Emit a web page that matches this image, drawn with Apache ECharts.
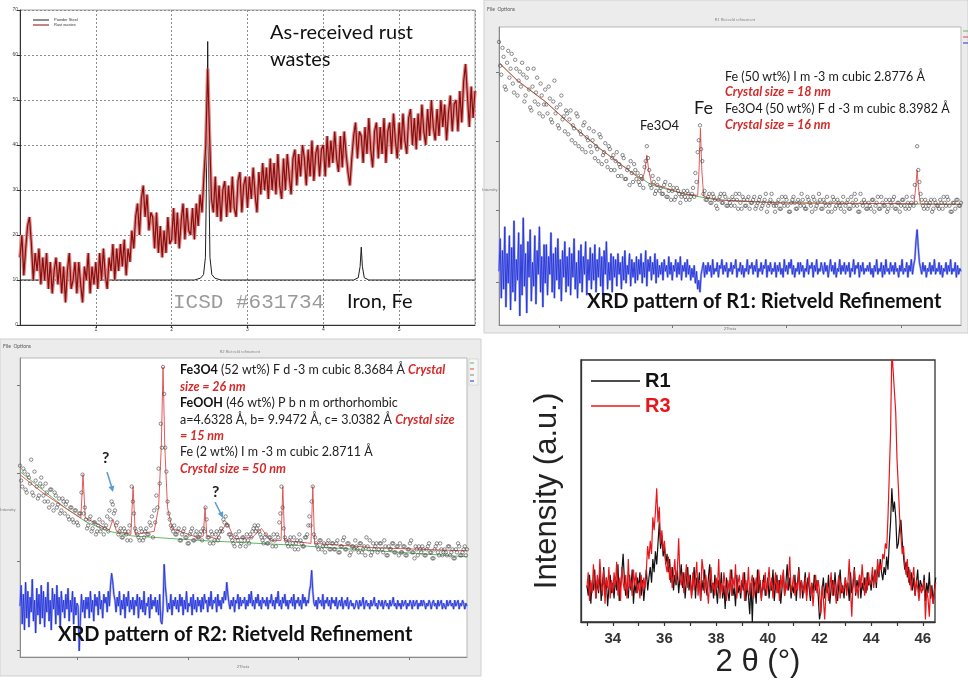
<!DOCTYPE html>
<html>
<head>
<meta charset="utf-8">
<script src="https://cdn.jsdelivr.net/npm/echarts@6/dist/echarts.min.js"></script>
<style>
  html, body { margin: 0; padding: 0; background: #fff; }
  #chart { width: 968px; height: 680px; }
</style>
</head>
<body>
<div id="chart"></div>
<script>
// ---------- As-received rust wastes: measured scan + ICSD #631734 iron pattern ----------
const rustScanStart = 0, rustScanStep = 0.025;
const rustScan = [
  15,20,11,17,22,24,18,10,16,12,
  17,9,15,10,16,8,14,7,12,15,
  9,14,7,13,5,12,16,8,10,14,
  7,14,9,5,13,10,16,7,13,9,
  14,8,16,10,17,11,8,15,12,18,
  10,17,12,18,13,19,11,17,14,21,
  17,24,27,20,28,31,24,29,21,25,
  24,17,25,16,22,15,21,16,24,18,
  19,26,18,25,17,23,27,19,26,21,
  20,26,19,27,22,29,25,33,40,57,
  42,28,25,33,24,31,23,30,32,24,
  31,25,33,26,24,32,34,25,31,33,
  26,33,28,35,29,25,34,29,36,30,
  35,28,37,30,36,29,38,31,28,37,
  30,38,33,29,37,39,31,38,33,40,
  37,31,39,33,41,32,38,40,33,39,
  40,33,42,35,41,36,43,37,34,42,
  35,43,38,34,31,37,42,45,37,43,
  42,36,44,38,46,39,35,43,45,37,
  44,38,46,36,43,45,38,47,41,37,
  45,39,47,41,38,46,48,40,46,39,
  47,41,49,43,40,48,42,50,44,41,
  48,42,50,44,49,41,47,51,43,49,
  50,43,52,45,54,58,51,44,53,46,52
];
const ironRefX = [0, 2.30, 2.38, 2.42, 2.445, 2.465, 2.475, 2.485, 2.505, 2.53, 2.57, 2.65, 4.40, 4.46, 4.485, 4.50, 4.515, 4.54, 4.60, 6];
const ironRefY = [10, 10, 10.4, 11.2, 15, 40, 63, 40, 15, 11.2, 10.4, 10, 10, 10.5, 13, 17.3, 13, 10.5, 10, 10];

// ---------- R1 Rietveld refinement ----------
const r1Start = 0, r1Step = 0.5;          // first observation pass
const r1StartB = 0.25, r1StepB = 0.5;     // interleaved observation pass
const r1Observed = [
  95,84,90,79,92,86,81,89,77,85,
  88,75,83,79,72,86,78,74,81,70,
  79,71,76,68,82,73,66,77,70,72,
  64,72,67,61,70,65,59,68,63,66,
  58,65,60,55,63,57,61,53,59,56,
  52,58,54,50,56,49,53,55,48,52,
  51,47,49,53,60,52,46,48,45,49,
  46,44,48,43,47,45,42,46,44,43,
  45,42,44,43,46,51,58,67,55,45,
  42,44,41,43,40,42,44,41,43,40,
  41,43,40,42,44,39,42,40,43,41,
  42,39,41,43,40,42,38,41,44,40,
  40,42,39,41,43,40,38,42,41,39,
  41,44,40,39,42,40,43,39,41,42,
  39,41,43,40,38,42,40,41,39,43,
  40,42,39,41,44,40,38,41,42,39,
  41,39,42,40,43,39,41,40,38,42,
  40,43,39,41,40,42,39,41,40,43,
  47,60,48,42,39,41,40,42,39,41,
  40,42,39,41,43,40,38,41,42,40,41
];
const r1ObservedB = [
  87,93,80,88,83,91,78,86,82,80,
  84,77,86,73,80,75,83,71,77,74,
  74,80,69,75,71,67,74,69,65,71,
  69,62,66,71,60,64,67,58,62,60,
  62,56,59,64,54,58,55,60,52,57,
  55,50,53,57,49,52,47,51,54,49,
  48,50,46,55,56,47,50,44,47,45,
  44,47,43,45,42,46,43,45,41,44,
  43,45,42,44,43,48,62,59,44,42,
  43,41,44,42,39,43,41,44,40,42,
  40,42,44,39,41,43,40,42,39,41,
  43,40,42,39,41,44,40,42,41,38,
  41,39,43,40,42,38,41,43,39,42,
  40,42,39,43,41,38,42,40,44,39,
  42,40,38,41,43,39,42,40,41,38,
  41,39,43,40,42,38,44,40,41,39,
  40,42,38,41,39,43,40,42,39,41,
  42,39,41,38,42,40,43,39,41,40,
  41,52,44,40,42,39,41,38,42,40,
  39,41,43,40,42,38,41,39,42,40
];
const r1CalcX = [0, 4, 10, 15, 22, 28, 31, 31.6, 32, 32.4, 33, 40, 43, 43.3, 43.6, 43.9, 44.3, 47, 60, 89.8, 90.2, 90.5, 90.8, 91.2, 100];
const r1CalcY = [88, 82, 75, 68, 59, 52, 48.5, 52, 57, 52, 47.5, 44, 43.5, 52, 66, 52, 43.2, 42, 41, 40.7, 46, 52, 46, 40.6, 40.5];
const r1BackX = [0, 4, 10, 15, 22, 28, 33, 40, 47, 60, 100];
const r1BackY = [88, 82, 75, 68, 59, 52, 47, 44, 42, 41, 40.5];
const r1DiffStart = 0, r1DiffStep = 0.25;
const r1Diff = [
  18,29,9,25,12,33,6,24,14,30,5,26,11,35,8,22,15,31,3,27,
  10,36,13,24,4,28,16,32,8,21,13,30,7,25,17,33,11,23,6,27,
  14,27,10,23,17,31,11,24,9,26,15,29,12,22,8,25,16,28,11,23,
  13,26,10,24,16,29,12,21,9,25,14,27,11,23,17,28,10,22,15,26,
  12,24,15,27,11,22,16,26,13,23,10,25,17,28,12,21,15,24,11,23,
  16,22,13,24,17,21,12,23,15,25,14,20,17,24,13,22,16,21,14,23,
  15,22,17,24,14,21,16,25,13,22,18,23,15,21,17,24,14,22,16,20,
  17,21,15,22,18,20,16,23,17,21,15,20,18,22,16,21,17,23,15,20,
  18,21,16,22,17,20,15,19,16,20,14,18,12,15,11,17,19,21,16,20,
  17,21,18,20,16,22,17,19,18,21,16,20,19,22,17,20,18,21,16,19,
  18,21,17,20,19,22,16,19,18,21,17,20,16,19,18,22,17,20,19,21,
  17,20,18,22,16,19,18,21,17,20,19,22,16,20,18,21,17,19,18,21,
  16,20,18,21,17,19,16,22,18,20,17,21,19,22,17,20,16,19,18,21,
  17,21,18,20,16,19,18,22,17,20,19,21,16,20,18,22,17,19,18,21,
  19,17,21,18,20,16,19,22,18,20,17,21,16,19,18,22,17,20,18,21,
  17,20,18,21,16,19,18,22,17,20,19,21,16,20,18,21,17,19,18,20,
  18,21,17,19,16,20,18,22,17,19,18,21,16,20,17,22,18,19,17,21,
  18,20,17,21,18,19,16,20,18,22,17,19,18,21,16,20,18,22,17,20,
  22,28,32,26,21,19,17,21,18,20,16,19,18,21,17,20,18,22,17,19,
  18,21,17,20,16,19,18,21,17,20,18,22,17,19,18,21,16,20,17,19,
  18
];

// ---------- R2 Rietveld refinement ----------
const r2Start = 0, r2Step = 0.5;
const r2StartB = 0.25, r2StepB = 0.5;
const r2Observed = [
  64,57,62,55,60,66,54,59,53,58,
  57,52,55,50,56,49,54,51,48,53,
  48,52,46,50,45,49,44,48,61,50,
  43,46,42,45,41,44,42,45,43,47,
  49,52,48,44,41,43,40,42,39,44,
  57,48,42,40,43,39,42,41,45,47,
  49,54,63,78,97,70,52,46,43,44,
  41,43,39,42,40,38,41,43,39,42,
  40,42,43,50,40,38,41,39,42,40,
  43,46,47,44,41,39,37,40,42,38,
  40,37,39,41,42,44,43,42,40,38,
  41,38,40,37,39,41,45,57,43,39,
  37,40,38,36,39,41,38,37,40,44,
  44,57,40,37,39,36,38,37,39,36,
  38,36,39,35,37,40,36,38,35,37,
  39,36,38,35,37,40,36,34,38,37,
  35,38,36,39,34,37,36,38,35,37,
  38,35,37,34,36,39,35,37,34,36,
  37,34,36,38,35,33,37,35,38,34,
  36,34,37,35,33,36,38,34,35,37,36
];
const r2ObservedB = [
  59,63,56,61,58,55,62,57,54,60,
  54,58,52,56,51,55,50,53,49,52,
  51,47,50,46,49,45,48,55,48,46,
  44,47,43,45,42,46,43,41,44,42,
  46,51,49,45,42,40,43,41,42,39,
  52,43,41,39,42,40,43,41,44,40,
  45,50,58,70,88,62,48,44,42,41,
  42,39,41,43,40,38,42,39,41,40,
  41,39,42,46,40,42,38,41,39,42,
  42,45,44,41,40,38,41,39,37,40,
  39,41,38,40,43,42,44,41,39,40,
  38,40,39,41,37,40,48,50,40,38,
  39,37,40,38,36,39,37,40,41,47,
  52,41,38,36,39,37,35,38,36,38,
  36,38,35,37,39,36,38,34,37,36,
  37,35,38,36,34,37,39,35,36,38,
  36,38,35,37,34,36,38,35,37,34,
  35,37,34,36,38,35,33,36,37,35,
  36,34,37,35,33,36,38,34,36,35,
  35,37,34,36,33,35,37,34,36,34
];
const r2CalcX = [0, 5, 10, 13.6, 14.1, 14.6, 20, 20.8, 21.6, 24.8, 25.3, 25.8, 30, 31, 31.6, 32, 32.4, 33, 34, 40, 41, 41.4, 41.8, 44, 46.3, 48, 52, 54, 56, 58.4, 58.8, 59.2, 65.1, 65.5, 65.9, 80, 100];
const r2CalcY = [61, 55, 50, 46.5, 61, 46.5, 42.5, 46, 42, 41, 57, 41, 42, 50, 70, 97, 70, 50, 43, 39.8, 40.5, 50, 40.5, 39.5, 45, 39.5, 40, 43, 39, 39, 57, 39, 38, 57, 38, 36.5, 35.5];
const r2BackX = [0, 5, 10, 15, 20, 25, 40, 60, 80, 100];
const r2BackY = [62, 56, 50, 45, 42, 40.5, 39, 37.5, 35.5, 33.5];
const r2DiffStart = 0, r2DiffStep = 0.25;
const r2Diff = [
  17,24,11,21,9,25,13,22,10,20,15,26,12,19,8,23,14,21,11,24,
  13,22,10,20,15,25,12,19,9,23,16,21,11,24,14,20,10,22,15,19,
  13,21,16,23,12,19,15,22,11,20,14,18,17,2,12,21,15,19,13,20,
  16,20,13,22,15,19,12,21,17,20,14,22,16,19,13,21,18,20,15,22,
  17,24,28,25,21,19,15,20,17,22,14,19,16,21,13,20,17,22,15,19,
  16,20,14,19,17,21,13,20,16,19,15,22,14,18,17,20,13,21,16,19,
  17,20,15,19,14,21,12,11,16,31,24,20,15,18,16,21,14,19,17,20,
  16,19,15,21,17,20,14,19,16,22,15,18,17,20,14,21,16,19,15,20,
  17,19,15,20,16,21,18,19,15,20,17,22,16,19,18,20,15,21,17,19,
  16,20,18,22,19,25,21,18,16,19,17,20,15,19,18,21,16,20,17,19,
  18,20,16,19,17,21,18,22,17,19,16,20,18,21,17,19,16,20,18,19,
  17,20,16,19,18,21,17,19,16,20,18,22,17,19,16,20,18,21,17,19,
  16,19,18,20,17,21,16,19,18,20,17,19,16,21,18,20,17,19,18,22,
  24,29,22,18,17,19,16,20,18,19,17,21,16,19,18,20,17,19,16,20,
  18,19,17,20,16,18,19,17,20,16,18,19,17,20,16,18,19,17,18,16,
  17,19,18,16,19,17,18,20,16,18,19,17,18,16,19,17,18,20,17,18,
  16,19,18,17,19,16,18,19,17,18,16,19,17,18,20,17,18,16,19,17,
  18,16,19,17,18,19,16,18,17,19,18,16,19,17,18,19,16,18,17,19,
  17,19,18,16,18,17,19,18,16,18,19,17,18,16,19,17,18,19,16,18,
  18,16,19,17,18,19,17,18,16,19,17,18,19,16,18,17,19,18,16,18,
  17
];

// ---------- R1 vs R3, 2θ = 33–46.5° ----------
const cmpStart = 33, cmpStep = 0.05;
const cmpR1 = [
  14,10,18,7,15,12,20,9,16,11,19,8,14,21,10,17,6,13,18,11,
  15,9,17,12,22,8,14,19,26,16,10,13,9,18,12,20,7,15,11,17,
  13,19,10,16,8,14,20,12,17,21,15,24,19,27,22,30,38,28,33,25,
  29,22,26,19,24,15,21,12,18,14,20,11,17,22,13,19,9,16,21,12,
  18,10,15,21,9,17,13,19,8,16,12,20,14,10,17,22,11,15,9,18,
  13,7,16,11,19,9,14,5,17,12,8,15,20,10,13,6,18,11,14,9,
  16,12,19,8,14,10,3,15,0,17,13,7,20,11,16,9,14,18,10,13,
  17,9,15,12,20,8,14,18,11,16,7,13,19,10,15,22,12,17,9,14,
  11,18,8,15,21,12,16,9,14,19,10,17,13,8,15,11,18,12,16,10,
  1,4,12,17,9,15,11,18,7,13,16,10,19,12,8,15,20,11,14,9,
  17,12,15,8,19,11,14,21,10,16,13,18,9,15,12,17,11,19,14,16,
  12,18,15,20,13,22,17,24,19,16,21,18,25,20,30,38,51,42,46,40,
  28,30,36,39,31,25,20,23,17,21,14,19,12,17,10,15,20,11,16,14,
  12,18,8,15,11,19,9,14,7,13,17
];
const cmpR3 = [
  13,19,8,16,11,22,14,9,18,12,24,15,10,20,7,17,13,21,9,16,
  11,19,14,23,10,17,8,21,15,12,18,9,24,13,16,10,20,14,19,11,
  15,9,18,12,17,13,20,29,24,31,26,40,35,42,51,38,44,30,35,27,
  31,22,19,25,16,21,13,18,24,15,20,32,17,14,19,11,16,22,13,18,
  15,9,19,12,17,23,10,16,8,24,20,11,18,13,7,16,21,12,15,10,
  17,13,24,9,15,11,19,14,8,16,12,20,10,17,13,22,9,15,18,11,
  14,19,8,16,12,21,10,15,18,9,13,17,11,20,14,8,16,12,19,10,
  15,21,12,17,9,14,19,11,16,8,18,13,20,10,15,12,17,25,11,14,
  18,10,15,12,20,9,16,13,11,17,8,14,19,10,15,6,13,18,11,16,
  12,3,14,9,1,11,15,8,13,19,10,16,12,7,14,18,9,15,11,13,
  17,10,15,24,12,2,16,20,11,14,9,18,13,22,15,10,17,12,19,14,
  16,21,13,19,15,24,18,22,20,26,24,30,28,40,56,72,104,96,88,80,
  62,52,40,33,26,29,22,18,24,15,20,12,17,21,10,16,13,8,14,11,
  11,16,1,12,9,2,14,10,7,12,15
];
const cmpTickValues = [33, 34, 35, 36, 37, 38, 39, 40, 41, 42, 43, 44, 45, 46];
const cmpLabelValues = [34, 36, 38, 40, 42, 44, 46];

// ---------- helpers ----------
const seq = (start, step, ys) => ys.map((y, i) => [+(start + i * step).toFixed(4), y]);
const pairs = (xs, ys) => xs.map((x, i) => [x, ys[i]]);

const LATO = 'Lato, "Open Sans", sans-serif';
const ARIAL = '"Liberation Sans", Arial, sans-serif';

function line(name, axis, data, color, width, z) {
  return {
    type: 'line', name, xAxisIndex: axis, yAxisIndex: axis, data,
    symbol: 'none', silent: true, animation: false, z,
    lineStyle: { color, width }, itemStyle: { color }
  };
}
function scatter(name, axis, data) {
  return {
    type: 'scatter', name, xAxisIndex: axis, yAxisIndex: axis, data,
    symbol: 'circle', symbolSize: 3.4, silent: true, animation: false, z: 4,
    itemStyle: { color: 'rgba(255,255,255,0)', borderColor: '#4a4a4a', borderWidth: 0.8 }
  };
}
function text(x, y, str, opt) {
  return {
    type: 'text', x, y, z: 100, silent: true,
    style: Object.assign({
      text: str, fontFamily: LATO, fontSize: 13, fill: '#222', verticalAlign: 'middle'
    }, opt || {})
  };
}
const redTok = { fill: '#d42a2a', fontStyle: 'italic', fontWeight: 'bold', fontFamily: LATO, fontSize: 12.5 };
const boldTok = { fill: '#111', fontWeight: 'bold', fontFamily: LATO, fontSize: 12.5 };

const plainAxis = (grid, min, max, ticks) => ({
  gridIndex: grid, type: 'value', min, max,
  axisLine: { show: true, lineStyle: { color: '#8a8a8a' } },
  axisTick: { show: true, length: 3, customValues: ticks, lineStyle: { color: '#777' } },
  axisLabel: { show: false },
  splitLine: { show: false }
});

const chart = echarts.init(document.getElementById('chart'), null, { renderer: 'canvas' });

chart.setOption({
  backgroundColor: '#fff',
  animation: false,
  grid: [
    { left: 20, top: 10, width: 455, height: 315, show: true, borderColor: '#a0a0a0', borderWidth: 1, backgroundColor: '#fff' },
    { left: 499, top: 27, width: 462, height: 298, show: true, borderColor: '#b8b8b8', borderWidth: 1, backgroundColor: '#fff' },
    { left: 20, top: 358, width: 447, height: 299, show: true, borderColor: '#b8b8b8', borderWidth: 1, backgroundColor: '#fff' },
    { left: 581, top: 360, width: 354, height: 262, show: true, borderColor: '#333', borderWidth: 1.3, backgroundColor: '#fff' }
  ],
  xAxis: [
    {
      gridIndex: 0, type: 'value', min: 0, max: 6, interval: 1,
      axisLine: { lineStyle: { color: '#333' } },
      axisTick: { length: 3, lineStyle: { color: '#333' } },
      axisLabel: { fontSize: 5, color: '#444', margin: 2, showMinLabel: false, showMaxLabel: false },
      splitLine: { show: true, lineStyle: { color: '#8c8c8c', type: [2, 2], width: 1 } }
    },
    plainAxis(1, 0, 100, [13, 37.4, 62.1, 87]),
    plainAxis(2, 0, 100, [12.8, 37.6, 62.2, 87]),
    {
      gridIndex: 3, type: 'value', min: 32.77, max: 46.47,
      axisLine: { lineStyle: { color: '#333', width: 1.3 } },
      axisTick: { show: true, length: 4, customValues: cmpTickValues, lineStyle: { color: '#333', width: 1.2 } },
      axisLabel: { customValues: cmpLabelValues, fontSize: 15, fontWeight: 'bold', color: '#333', fontFamily: ARIAL, margin: 9 },
      splitLine: { show: false },
      name: '2 θ (°)', nameLocation: 'middle', nameGap: 22,
      nameTextStyle: { fontSize: 31, color: '#222', fontFamily: ARIAL }
    }
  ],
  yAxis: [
    {
      gridIndex: 0, type: 'value', min: 0, max: 70, interval: 10,
      axisLine: { show: true, lineStyle: { color: '#333' } },
      axisTick: { show: true, length: 3, lineStyle: { color: '#333' } },
      axisLabel: { fontSize: 5, color: '#444', margin: 2 },
      splitLine: { show: true, lineStyle: { color: '#8c8c8c', type: [2, 2], width: 1 } }
    },
    plainAxis(1, 0, 100, [14.4, 38.6, 61.7, 84.9]),
    plainAxis(2, 0, 100, [2.3, 31.9, 61.5, 91]),
    {
      gridIndex: 3, type: 'value', min: 0, max: 100,
      axisLine: { show: true, lineStyle: { color: '#333', width: 1.3 } },
      axisTick: { show: false }, axisLabel: { show: false }, splitLine: { show: false },
      name: 'Intensity (a.u.)', nameLocation: 'middle', nameGap: 18,
      nameTextStyle: { fontSize: 31, color: '#222', fontFamily: ARIAL }
    }
  ],
  legend: [
    {
      left: 28, top: 13, orient: 'vertical', icon: 'rect', itemWidth: 16, itemHeight: 1,
      itemGap: 1, selectedMode: false, textStyle: { fontSize: 4, color: '#333' },
      data: ['Powder Steel', 'Rust wastes']
    },
    {
      left: 586, top: 366, orient: 'vertical', icon: 'rect', itemWidth: 49, itemHeight: 1.6,
      itemGap: 5, selectedMode: false,
      textStyle: { fontSize: 20, fontWeight: 'bold', fontFamily: ARIAL },
      data: [
        { name: 'R1', textStyle: { color: '#111' } },
        { name: 'R3', textStyle: { color: '#e8161b' } }
      ]
    }
  ],
  series: [
    // panel: as-received rust wastes
    line('Powder Steel', 0, pairs(ironRefX, ironRefY), '#1e1e1e', 1, 2),
    line('Rust wastes', 0, seq(rustScanStart, rustScanStep, rustScan), '#8b0a0a', 1.2, 4),
    line('Rust wastes', 0, seq(rustScanStart, rustScanStep, rustScan), '#d98c8c', 3.5, 3),

    // panel: R1 refinement
    line('R1 background', 1, pairs(r1BackX, r1BackY), '#62b862', 1, 2),
    line('R1 calculated', 1, pairs(r1CalcX, r1CalcY), '#e04848', 0.9, 3),
    scatter('R1 observed', 1, seq(r1Start, r1Step, r1Observed)),
    scatter('R1 observed', 1, seq(r1StartB, r1StepB, r1ObservedB)),
    line('R1 difference', 1, seq(r1DiffStart, r1DiffStep, r1Diff), '#9ba4f0', 2.2, 3),
    line('R1 difference', 1, seq(r1DiffStart, r1DiffStep, r1Diff), '#2433d6', 0.9, 4),

    // panel: R2 refinement
    line('R2 background', 2, pairs(r2BackX, r2BackY), '#62b862', 1, 2),
    line('R2 calculated', 2, pairs(r2CalcX, r2CalcY), '#e04848', 0.9, 3),
    scatter('R2 observed', 2, seq(r2Start, r2Step, r2Observed)),
    scatter('R2 observed', 2, seq(r2StartB, r2StepB, r2ObservedB)),
    line('R2 difference', 2, seq(r2DiffStart, r2DiffStep, r2Diff), '#9ba4f0', 2.2, 3),
    line('R2 difference', 2, seq(r2DiffStart, r2DiffStep, r2Diff), '#2433d6', 0.9, 4),

    // panel: R1 vs R3
    line('R1', 3, seq(cmpStart, cmpStep, cmpR1), '#111111', 1.2, 3),
    line('R3', 3, seq(cmpStart, cmpStep, cmpR3), '#e8161b', 1.2, 4)
  ],
  graphic: [
    // program windows behind the two refinement plots
    { type: 'rect', z: -10, shape: { x: 484, y: 0, width: 484, height: 333 }, style: { fill: '#ececec', stroke: '#cfcfcf' } },
    { type: 'rect', z: -10, shape: { x: 0, y: 339, width: 481, height: 337 }, style: { fill: '#ececec', stroke: '#cfcfcf' } },
    text(487, 9, 'File  Options', { fontSize: 5, fill: '#555' }),
    text(735, 20, 'R1 Rietveld refinement', { fontSize: 4, fill: '#888', textAlign: 'center' }),
    text(3, 346, 'File  Options', { fontSize: 5, fill: '#555' }),
    text(240, 352, 'R2 Rietveld refinement', { fontSize: 4, fill: '#888', textAlign: 'center' }),
    text(490, 190, 'Intensity', { fontSize: 4, fill: '#777', textAlign: 'center', rotation: Math.PI / 2 }),
    text(8, 510, 'Intensity', { fontSize: 4, fill: '#777', textAlign: 'center', rotation: Math.PI / 2 }),
    text(730, 329, '2Theta', { fontSize: 4, fill: '#777', textAlign: 'center' }),
    text(243, 667, '2Theta', { fontSize: 4, fill: '#777', textAlign: 'center' }),
    // small series keys on the right of the refinement windows
    { type: 'line', z: 50, shape: { x1: 963, y1: 31, x2: 968, y2: 31 }, style: { stroke: '#62b862', lineWidth: 1 } },
    { type: 'line', z: 50, shape: { x1: 963, y1: 37, x2: 968, y2: 37 }, style: { stroke: '#e04848', lineWidth: 1 } },
    { type: 'line', z: 50, shape: { x1: 963, y1: 43, x2: 968, y2: 43 }, style: { stroke: '#2433d6', lineWidth: 1 } },
    { type: 'rect', z: 50, shape: { x: 469, y: 359, width: 9, height: 26 }, style: { fill: '#f6f6f6', stroke: '#c0c0c0', lineWidth: 0.5 } },
    { type: 'line', z: 51, shape: { x1: 470, y1: 363, x2: 474, y2: 363 }, style: { stroke: '#62b862', lineWidth: 1 } },
    { type: 'line', z: 51, shape: { x1: 470, y1: 369, x2: 474, y2: 369 }, style: { stroke: '#e04848', lineWidth: 1 } },
    { type: 'line', z: 51, shape: { x1: 470, y1: 375, x2: 474, y2: 375 }, style: { stroke: '#888', lineWidth: 1 } },
    { type: 'line', z: 51, shape: { x1: 470, y1: 381, x2: 474, y2: 381 }, style: { stroke: '#2433d6', lineWidth: 1 } },

    // annotations: as-received rust wastes
    text(270, 33, 'As-received rust', { fontSize: 20, fill: '#111' }),
    text(270, 60, 'wastes', { fontSize: 20, fill: '#111' }),
    text(173, 302, 'ICSD #631734', { fontSize: 21, fill: '#9a9a9a', fontFamily: '"Liberation Mono", "DejaVu Sans Mono", monospace' }),
    text(347, 302, 'Iron, Fe', { fontSize: 20, fill: '#111' }),

    // annotations: R1 refinement
    text(725, 77, 'Fe (50 wt%) I m -3 m cubic 2.8776 Å', { fontSize: 12.5, fill: '#1a1a1a' }),
    text(725, 92, '{r|Crystal size = 18 nm}', { fontSize: 12.5, rich: { r: redTok } }),
    text(725, 109, 'Fe3O4 (50 wt%) F d -3 m cubic 8.3982 Å', { fontSize: 12.5, fill: '#1a1a1a' }),
    text(725, 125, '{r|Crystal size = 16 nm}', { fontSize: 12.5, rich: { r: redTok } }),
    text(694, 108, 'Fe', { fontSize: 18, fill: '#1a1a1a' }),
    text(640, 126, 'Fe3O4', { fontSize: 13, fill: '#1a1a1a' }),
    text(587, 302, 'XRD pattern of R1: Rietveld Refinement', { fontSize: 20, fontWeight: 'bold', fill: '#111' }),

    // annotations: R2 refinement
    text(180, 370, '{b|Fe3O4} (52 wt%) F d -3 m cubic 8.3684 Å {r|Crystal}', { fontSize: 12.5, rich: { b: boldTok, r: redTok } }),
    text(180, 387, '{r|size = 26 nm}', { fontSize: 12.5, rich: { r: redTok } }),
    text(180, 403, '{b|FeOOH} (46 wt%) P b n m orthorhombic', { fontSize: 12.5, rich: { b: boldTok } }),
    text(180, 420, 'a=4.6328 Å, b= 9.9472 Å, c= 3.0382 Å {r|Crystal size}', { fontSize: 12.5, rich: { r: redTok } }),
    text(180, 436, '{r|= 15 nm}', { fontSize: 12.5, rich: { r: redTok } }),
    text(180, 452, 'Fe (2 wt%) I m -3 m cubic 2.8711 Å', { fontSize: 12.5 }),
    text(180, 469, '{r|Crystal size = 50 nm}', { fontSize: 12.5, rich: { r: redTok } }),
    text(102, 458, '?', { fontSize: 16, fontWeight: 'bold', fill: '#222' }),
    text(212, 492, '?', { fontSize: 16, fontWeight: 'bold', fill: '#222' }),
    { type: 'line', z: 100, shape: { x1: 107, y1: 472, x2: 112, y2: 488 }, style: { stroke: '#5b9bd5', lineWidth: 1.5 } },
    { type: 'polygon', z: 100, shape: { points: [[113, 492], [114.3, 485.4], [108.5, 487.0]] }, style: { fill: '#5b9bd5' } },
    { type: 'line', z: 100, shape: { x1: 215, y1: 502, x2: 221, y2: 514 }, style: { stroke: '#5b9bd5', lineWidth: 1.5 } },
    { type: 'polygon', z: 100, shape: { points: [[223, 518], [223.2, 511.2], [217.8, 513.8]] }, style: { fill: '#5b9bd5' } },
    text(58, 635, 'XRD pattern of R2: Rietveld Refinement', { fontSize: 20, fontWeight: 'bold', fill: '#111' })
  ]
});
</script>
</body>
</html>
